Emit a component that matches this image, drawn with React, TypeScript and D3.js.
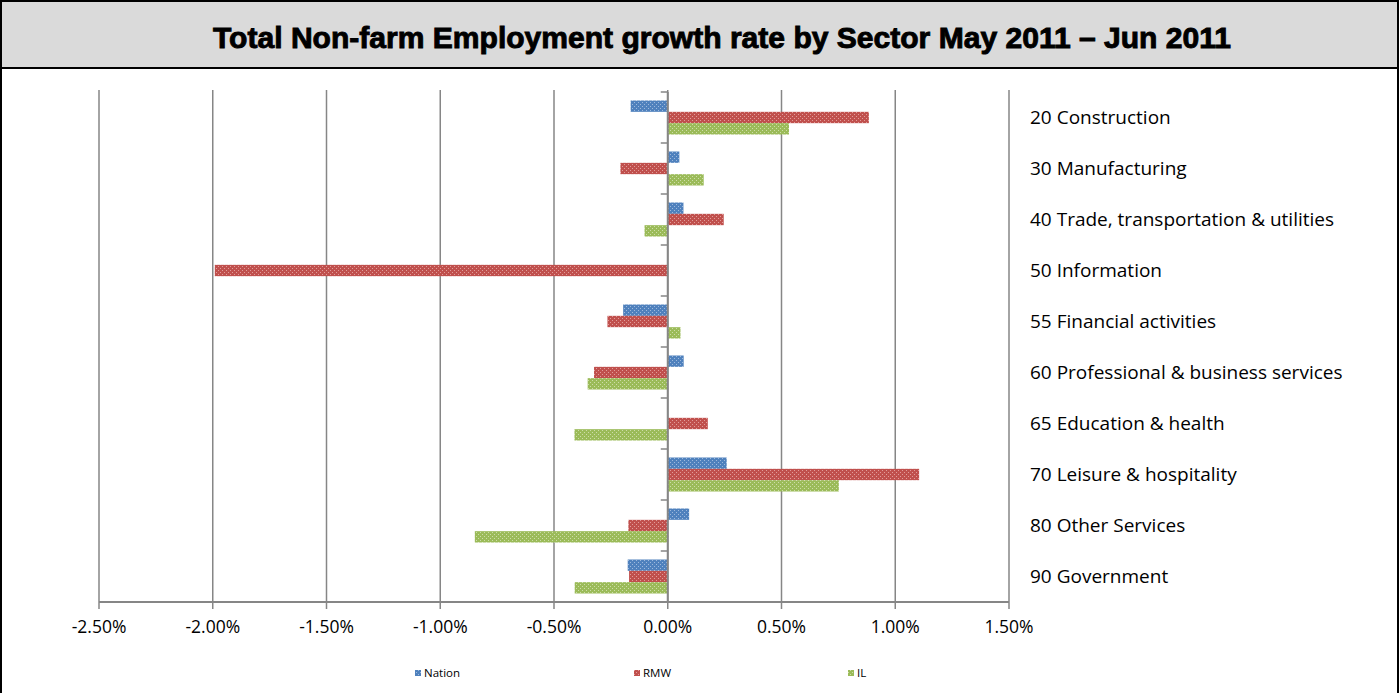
import React from "react";
import * as d3 from "d3";

const categories = [
  "20 Construction",
  "30 Manufacturing",
  "40 Trade, transportation & utilities",
  "50 Information",
  "55 Financial activities",
  "60 Professional & business services",
  "65 Education & health",
  "70 Leisure & hospitality",
  "80 Other Services",
  "90 Government",
];
const seriesNames = ["Nation", "RMW", "IL"];
const nation = [-0.163, 0.051, 0.069, 0.0, -0.196, 0.07, 0.0, 0.259, 0.094, -0.176];
const rmw = [0.884, -0.208, 0.246, -1.991, -0.265, -0.324, 0.176, 1.105, -0.173, -0.17];
const il = [0.533, 0.158, -0.102, 0.0, 0.056, -0.352, -0.41, 0.752, -0.848, -0.409];
const xTicks = [-2.5, -2.0, -1.5, -1.0, -0.5, 0.0, 0.5, 1.0, 1.5];
const colors = ["#4F81BD", "#C0504D", "#9BBB59"];
const lightColors = ["#9DB9DD", "#E29C9A", "#CDDDA8"];

const W = 1400;
const H = 693;
const plot = { left: 99, right: 1009, top: 92, bottom: 602 };

export default function App() {
  const x = d3.scaleLinear().domain([-2.5, 1.5]).range([plot.left, plot.right]);
  const y = d3.scaleBand<string>().domain(categories).range([plot.top, plot.bottom]);
  const bw = y.bandwidth();
  const barH = bw / 4.5;
  const inner = d3
    .scaleBand<string>()
    .domain(seriesNames)
    .range([0, barH * 3]);
  const data = [nation, rmw, il];
  const axisColor = "#868686";
  const fmt = (v: number) => v.toFixed(2) + "%";
  const font = "Open Sans, Lato, sans-serif";

  return (
    <svg
      width={W}
      height={H}
      style={{ position: "absolute", left: 0, top: 0, background: "#fff" }}
    >
      <defs>
        {colors.map((c, i) => (
          <pattern
            key={i}
            id={"pat" + i}
            width={4}
            height={4}
            patternUnits="userSpaceOnUse"
          >
            <rect width={4} height={4} fill={c} />
            <rect x={0} y={0} width={1} height={1} fill={lightColors[i]} />
            <rect x={2} y={2} width={1} height={1} fill={lightColors[i]} />
          </pattern>
        ))}
      </defs>
      {/* Title band */}
      <rect x={1} y={1} width={W - 3} height={67} fill="#DADADA" stroke="#000" strokeWidth={2} />
      <text
        x={722}
        y={48}
        textAnchor="middle"
        fontFamily="Liberation Sans, Arial, sans-serif"
        fontWeight="bold"
        fontSize={29}
        textLength={1018}
        lengthAdjust="spacingAndGlyphs"
        fill="#000"
        stroke="#000"
        strokeWidth={0.9}
      >
        Total Non-farm Employment growth rate by Sector May 2011 – Jun 2011
      </text>
      <line x1={1} y1={68} x2={1} y2={H} stroke="#000" strokeWidth={2} />
      <line x1={W - 2} y1={68} x2={W - 2} y2={H} stroke="#000" strokeWidth={2} />

      {/* gridlines */}
      {xTicks.map((t) => (
        <line
          key={"g" + t}
          x1={x(t)}
          x2={x(t)}
          y1={plot.top - 2}
          y2={plot.bottom}
          stroke={axisColor}
          strokeWidth={1.5}
        />
      ))}

      {/* bars */}
      {categories.map((c, ci) =>
        seriesNames.map((s, si) => {
          const v = data[si][ci];
          const x0 = x(Math.min(0, v));
          const x1 = x(Math.max(0, v));
          return (
            <rect
              key={c + s}
              x={x0}
              y={(y(c) as number) + barH * 0.75 + (inner(s) as number)}
              width={x1 - x0}
              height={barH}
              fill={`url(#pat${si})`}
            />
          );
        })
      )}

      {/* vertical axis at 0 */}
      <line x1={x(0)} x2={x(0)} y1={plot.top} y2={plot.bottom} stroke={axisColor} strokeWidth={2} />
      {categories.map((c) => (
        <line
          key={"t" + c}
          x1={x(0) - 7}
          x2={x(0)}
          y1={y(c) as number}
          y2={y(c) as number}
          stroke={axisColor}
          strokeWidth={1.5}
        />
      ))}
      <line x1={x(0) - 7} x2={x(0)} y1={plot.bottom} y2={plot.bottom} stroke={axisColor} strokeWidth={1.5} />

      {/* horizontal axis */}
      <line x1={plot.left} x2={plot.right} y1={plot.bottom} y2={plot.bottom} stroke={axisColor} strokeWidth={2} />
      {xTicks.map((t) => (
        <g key={"xt" + t}>
          <line x1={x(t)} x2={x(t)} y1={plot.bottom} y2={plot.bottom + 7} stroke={axisColor} strokeWidth={1.5} />
          <text
            x={x(t)}
            y={633}
            textAnchor="middle"
            fontFamily={font}
            fontSize={17.5}
            fill="#000"
          >
            {fmt(t)}
          </text>
        </g>
      ))}

      {/* category labels */}
      {categories.map((c) => (
        <text
          key={"l" + c}
          x={1030}
          y={(y(c) as number) + bw / 2 + 6.5}
          fontFamily={font}
          fontSize={19}
          fill="#000"
        >
          {c}
        </text>
      ))}

      {/* legend */}
      {seriesNames.map((s, i) => {
        const lx = [415, 634, 848][i];
        return (
          <g key={"lg" + s}>
            <rect x={lx} y={670} width={6} height={6} fill={`url(#pat${i})`} />
            <text
              x={lx + 9}
              y={677}
              fontFamily={font}
              fontSize={11.5}
              fill="#000"
            >
              {s}
            </text>
          </g>
        );
      })}
    </svg>
  );
}
